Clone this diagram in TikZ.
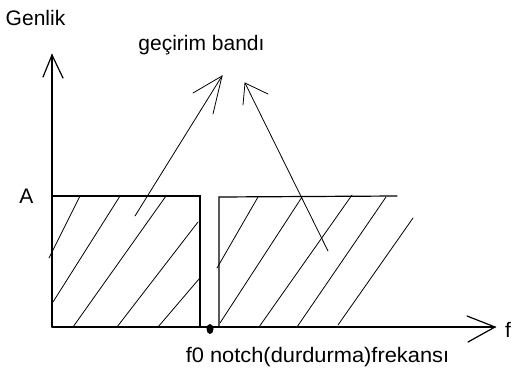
\documentclass[tikz,border=0pt]{standalone}
\usepackage{fontspec}
\setmainfont{Liberation Sans}
\begin{document}
\begin{tikzpicture}[x=1pt,y=-1pt,
  axisline/.style={line width=1.2pt,line cap=round},
  hatch/.style={line width=0.8pt,line cap=round},
  lbl/.style={inner sep=0pt,font=\fontsize{21}{25}\selectfont}]
\useasboundingbox[fill=white] (0,0) rectangle (513,369);
% axes
\coordinate (O) at (52,327);
\coordinate (Ytip) at (52,55);
\coordinate (Xtip) at (495,327);
\draw[axisline] (O) -- (Ytip);
\draw[axisline] (43,77) -- (Ytip) -- (63,78);
\draw[axisline] (O) -- (Xtip);
\draw[axisline] (467,316) -- (Xtip) -- (468,342);
% left box
\draw[axisline] (52,196) -- (200,196) -- (200,327);
% right box
\draw[axisline] (219,327) -- (219,197) -- (397,196);
% notch dot
\fill (210,329) ellipse [x radius=3.5, y radius=5];
% hatches left
\draw[hatch] (80,196) -- (49,258);
\draw[hatch] (120,196) -- (53,302);
\draw[hatch] (166,196) -- (73,327);
\draw[hatch] (198,222) -- (117,327);
\draw[hatch] (199,279) -- (158,327);
% hatches right
\draw[hatch] (258,197) -- (217,268);
\draw[hatch] (302,197) -- (220,323);
\draw[hatch] (352,195) -- (259,327);
\draw[hatch] (386,197) -- (297,327);
\draw[hatch] (413,218) -- (338,325);
% pointer arrows
\coordinate (L1) at (222,76);
\coordinate (L2) at (245,83);
\draw[hatch] (135,216) -- (L1);
\draw[hatch] (193,93) -- (L1) -- (213,114);
\draw[hatch] (328,251) -- (L2);
\draw[hatch] (268,94) -- (L2) -- (243,105);
% labels
\node[lbl,anchor=base] (genlik) at (35.5,26) {Genlik};
\node[lbl,anchor=base] (band) at (201.5,50) {geçirim bandı};
\node[lbl,anchor=base] (A) at (26.5,203) {A};
\node[lbl,anchor=base west] (f) at (505,337) {f};
\node[lbl,anchor=base] (notch) at (317.5,362) {\scalebox{1.04}[1]{f0 notch(durdurma)frekansı}};
\end{tikzpicture}
\end{document}
